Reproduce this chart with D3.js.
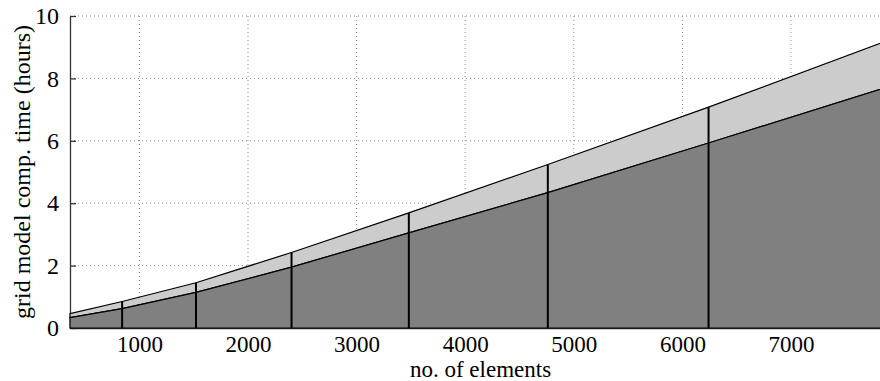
<!DOCTYPE html>
<html>
<head>
<meta charset="utf-8">
<script src="https://cdn.jsdelivr.net/npm/d3@7"></script>
<style>
  html, body { margin: 0; padding: 0; background: #fff; }
  svg { display: block; overflow: hidden; }
</style>
</head>
<body>
<svg id="chart" width="880" height="381"></svg>
<script>
// number of elements in each grid (n x n meshes)
const elements = [361, 841, 1521, 2401, 3481, 4761, 6241, 7921];
// computation time of the lower stage (hours)
const baseTime = [0.33, 0.62, 1.14, 1.95, 3.05, 4.34, 5.93, 7.76];
// total computation time (hours)
const totalTime = [0.46, 0.85, 1.45, 2.42, 3.69, 5.24, 7.08, 9.25];
const xTicks = [1000, 2000, 3000, 4000, 5000, 6000, 7000];
const yTicks = [0, 2, 4, 6, 8, 10];

const FONT = "'Liberation Serif', 'Times New Roman', Times, 'DejaVu Serif', serif";

const svg = d3.select("#chart");
const plotLeft = 70, plotRight = 891, plotTop = 16, plotBottom = 328;

const x = d3.scaleLinear().domain([361, 7921]).range([plotLeft, plotRight]);
const y = d3.scaleLinear().domain([0, 10]).range([plotBottom, plotTop]);

const data = elements.map((n, i) => ({ n, base: baseTime[i], total: totalTime[i] }));

// dotted grid
const grid = svg.append("g");
grid.selectAll("line.gx").data(xTicks).join("line")
  .attr("x1", d => x(d)).attr("x2", d => x(d))
  .attr("y1", plotTop).attr("y2", plotBottom)
  .attr("stroke", "#8a8a8a").attr("stroke-width", 1)
  .attr("stroke-dasharray", "1,3");
grid.selectAll("line.gy").data(yTicks.filter(d => d > 0)).join("line")
  .attr("x1", plotLeft).attr("x2", plotRight)
  .attr("y1", d => y(d)).attr("y2", d => y(d))
  .attr("stroke", "#8a8a8a").attr("stroke-width", 1)
  .attr("stroke-dasharray", "1,3");

// y axis
const yAxis = d3.axisLeft(y).tickValues(yTicks).tickSizeInner(-6).tickSizeOuter(0).tickPadding(11);
const gy = svg.append("g").attr("transform", `translate(${plotLeft},0)`).call(yAxis);
gy.select(".domain").attr("stroke", "#333").attr("stroke-width", 1.3);
gy.selectAll(".tick line").attr("stroke", "#333").attr("stroke-width", 1.3);
gy.selectAll(".tick text").style("font-family", FONT).style("font-size", "24px").attr("fill", "#000");

// x axis
const xAxis = d3.axisBottom(x).tickValues(xTicks).tickFormat(d3.format("d")).tickSizeInner(-6).tickSizeOuter(0).tickPadding(8);
const gx = svg.append("g").attr("transform", `translate(0,${plotBottom})`).call(xAxis);
gx.select(".domain").attr("stroke", "#333").attr("stroke-width", 1.3);
gx.selectAll(".tick line").attr("stroke", "#333");
gx.selectAll(".tick text").style("font-family", FONT).style("font-size", "23px").attr("fill", "#000");

// stacked areas
const lowerArea = d3.area().x(d => x(d.n)).y0(y(0)).y1(d => y(d.base));
const upperArea = d3.area().x(d => x(d.n)).y0(d => y(d.base)).y1(d => y(d.total));

svg.append("path").datum(data).attr("d", upperArea)
  .attr("fill", "#cccccc").attr("stroke", "#000").attr("stroke-width", 1.2);
svg.append("path").datum(data).attr("d", lowerArea)
  .attr("fill", "#808080").attr("stroke", "#000").attr("stroke-width", 1.2);

// separators at each grid size
svg.append("g").selectAll("line").data(data.slice(1, -1)).join("line")
  .attr("x1", d => x(d.n)).attr("x2", d => x(d.n))
  .attr("y1", y(0)).attr("y2", d => y(d.total))
  .attr("stroke", "#000").attr("stroke-width", 2);

// axis labels
svg.append("text")
  .attr("x", (plotLeft + plotRight) / 2).attr("y", 377)
  .attr("text-anchor", "middle")
  .style("font-family", FONT).style("font-size", "23px")
  .text("no. of elements");
svg.append("text")
  .attr("transform", `translate(30,${(plotTop + plotBottom) / 2}) rotate(-90)`)
  .attr("text-anchor", "middle")
  .style("font-family", FONT).style("font-size", "24px")
  .text("grid model comp. time (hours)");
</script>
</body>
</html>
